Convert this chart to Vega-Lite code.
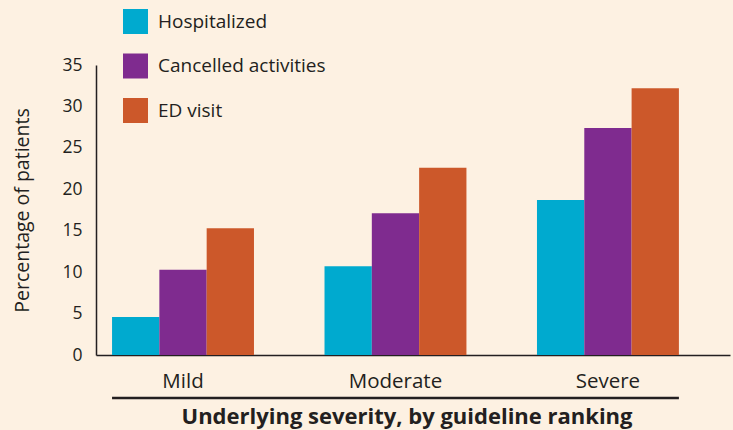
{
  "$schema": "https://vega.github.io/schema/vega-lite/v6.json",
  "width": 634,
  "height": 290,
  "autosize": {"type": "none"},
  "padding": {"left": 96, "top": 65, "right": 3, "bottom": 75},
  "background": "#fdf1e2",
  "config": {"view": {"stroke": null}, "font": "Open Sans"},
  "data": {
    "values": [
      {"severity": "Mild", "outcome": "Hospitalized", "pct": 4.6},
      {"severity": "Mild", "outcome": "Cancelled activities", "pct": 10.3},
      {"severity": "Mild", "outcome": "ED visit", "pct": 15.3},
      {"severity": "Moderate", "outcome": "Hospitalized", "pct": 10.7},
      {"severity": "Moderate", "outcome": "Cancelled activities", "pct": 17.1},
      {"severity": "Moderate", "outcome": "ED visit", "pct": 22.6},
      {"severity": "Severe", "outcome": "Hospitalized", "pct": 18.7},
      {"severity": "Severe", "outcome": "Cancelled activities", "pct": 27.4},
      {"severity": "Severe", "outcome": "ED visit", "pct": 32.2}
    ]
  },
  "layer": [
    {
      "mark": {"type": "bar"},
      "encoding": {
        "x": {
          "field": "severity",
          "type": "nominal",
          "sort": ["Mild", "Moderate", "Severe"],
          "scale": {"paddingInner": 0.332, "paddingOuter": 0.158, "align": 0.239},
          "axis": {
            "domain": true,
            "domainColor": "#231f20",
            "domainWidth": 1.5,
            "ticks": false,
            "tickSize": 0,
            "labelAngle": 0,
            "labelFontSize": 20.5,
            "labelColor": "#231f20",
            "labelBaseline": "alphabetic",
            "labelPadding": 32.5,
            "title": "Underlying severity, by guideline ranking",
            "titleFontSize": 22,
            "titleFontWeight": "bold",
            "titleColor": "#231f20",
            "titleX": 310.5,
            "titleY": 68,
            "titleBaseline": "alphabetic"
          }
        },
        "xOffset": {
          "field": "outcome",
          "type": "nominal",
          "sort": ["Hospitalized", "Cancelled activities", "ED visit"],
          "scale": {"paddingInner": 0, "paddingOuter": 0}
        },
        "y": {
          "field": "pct",
          "type": "quantitative",
          "scale": {"domain": [0, 35], "nice": false},
          "axis": {
            "values": [0, 5, 10, 15, 20, 25, 30, 35],
            "domain": true,
            "domainColor": "#231f20",
            "domainWidth": 1.5,
            "ticks": false,
            "tickSize": 0,
            "grid": false,
            "labelFontSize": 17.5,
            "labelColor": "#231f20",
            "labelPadding": 14,
            "title": "Percentage of patients",
            "titleFontSize": 19.5,
            "titleFontWeight": "normal",
            "titleColor": "#231f20",
            "titleAngle": -90,
            "titleX": -74,
            "titleY": 145,
            "titleBaseline": "middle",
            "titleAlign": "center"
          }
        },
        "color": {
          "field": "outcome",
          "type": "nominal",
          "scale": {
            "domain": ["Hospitalized", "Cancelled activities", "ED visit"],
            "range": ["#00aacf", "#7f2b8f", "#cc582a"]
          },
          "legend": {
            "orient": "none",
            "legendX": 27,
            "legendY": -56,
            "title": null,
            "symbolType": "square",
            "symbolSize": 625,
            "symbolStrokeWidth": 0,
            "labelFontSize": 19,
            "labelLimit": 400,
            "labelColor": "#231f20",
            "labelOffset": 10,
            "rowPadding": 19.5,
            "padding": 0
          }
        }
      }
    },
    {
      "data": {"values": [{"line": "underline"}]},
      "mark": {"type": "rule", "strokeWidth": 2.5, "color": "#231f20", "clip": false},
      "encoding": {
        "x": {"datum": "Mild", "bandPosition": 0},
        "x2": {"datum": "Severe", "bandPosition": 1},
        "y": {"datum": -5.2}
      }
    }
  ]
}
